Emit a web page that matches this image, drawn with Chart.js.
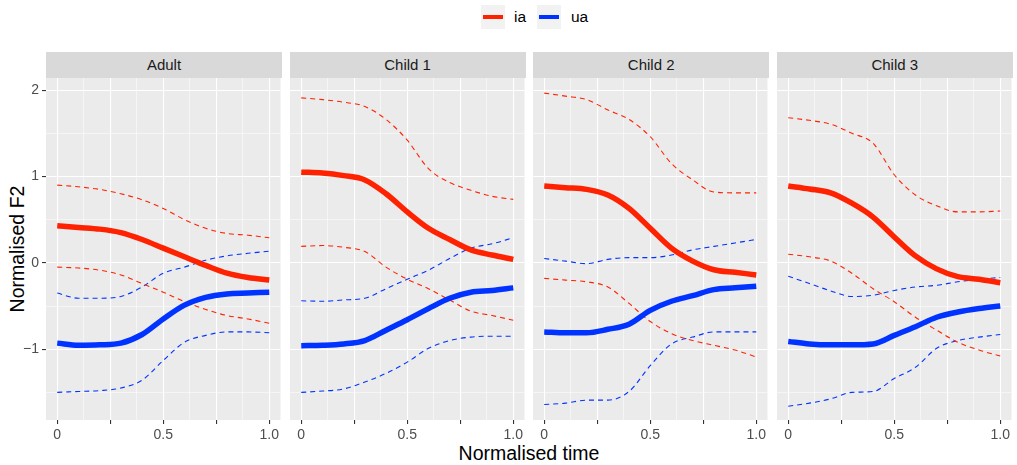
<!DOCTYPE html>
<html>
<head>
<meta charset="utf-8">
<script src="https://cdn.jsdelivr.net/npm/chart.js@4.4.0/dist/chart.umd.min.js"></script>
<style>
  html, body { margin:0; padding:0; background:#ffffff; }
  body { width:1017px; height:465px; position:relative; overflow:hidden; font-family:"Liberation Sans", Arial, sans-serif; }
  canvas { position:absolute; top:0; }
  .strip { position:absolute; top:52px; height:26px; background:#D9D9D9; color:#1A1A1A; font-size:15px; line-height:26px; text-align:center; }
  .ytitle { position:absolute; left:17px; top:249px; transform:translate(-50%,-50%) rotate(-90deg); font-size:19.5px; color:#000; white-space:nowrap; }
  .xtitle { position:absolute; left:529px; top:453px; transform:translate(-50%,-50%); font-size:19.5px; color:#000; white-space:nowrap; }
  .legend { position:absolute; top:5px; left:481px; height:24px; font-size:15.5px; color:#000; }
  .key { position:absolute; top:0; width:24px; height:24px; background:#F2F2F2; }
  .key span { position:absolute; left:2px; top:10px; width:20px; height:4px; }
  .lab { position:absolute; top:3px; }
</style>
</head>
<body>
<div class="legend">
  <div class="key" style="left:0px"><span style="background:#FF2200"></span></div>
  <div class="lab" style="left:33px">ia</div>
  <div class="key" style="left:56px"><span style="background:#0033FF"></span></div>
  <div class="lab" style="left:90px">ua</div>
</div>
<div class="ytitle">Normalised F2</div>
<div class="xtitle">Normalised time</div>
<script>
// ---- data ----
const timePoints = [0, 0.1, 0.2, 0.3, 0.4, 0.5, 0.6, 0.7, 0.8, 0.9, 1.0];
const panelNames = ["Adult", "Child 1", "Child 2", "Child 3"];
const seriesNames = ["ia", "ua"];
const yTickLabels = ["2", "1", "0", "\u22121"];
const xTickLabels = ["0", "0.5", "1.0"];

const adultIaMean  = [0.43, 0.41, 0.39, 0.35, 0.27, 0.17, 0.07, -0.03, -0.12, -0.17, -0.20];
const adultIaUpper = [0.90, 0.88, 0.85, 0.80, 0.73, 0.63, 0.50, 0.40, 0.34, 0.32, 0.29];
const adultIaLower = [-0.05, -0.06, -0.085, -0.14, -0.24, -0.34, -0.45, -0.54, -0.61, -0.65, -0.70];
const adultUaMean  = [-0.93, -0.955, -0.95, -0.93, -0.83, -0.65, -0.49, -0.40, -0.36, -0.35, -0.34];
const adultUaUpper = [-0.35, -0.41, -0.41, -0.39, -0.28, -0.12, -0.05, 0.03, 0.08, 0.11, 0.135];
const adultUaLower = [-1.50, -1.49, -1.48, -1.45, -1.36, -1.13, -0.92, -0.84, -0.80, -0.80, -0.81];

const child1IaMean  = [1.05, 1.04, 1.01, 0.96, 0.80, 0.59, 0.40, 0.27, 0.15, 0.09, 0.04];
const child1IaUpper = [1.91, 1.89, 1.86, 1.81, 1.66, 1.42, 1.09, 0.93, 0.84, 0.77, 0.735];
const child1IaLower = [0.19, 0.20, 0.18, 0.13, -0.05, -0.19, -0.30, -0.43, -0.56, -0.61, -0.665];
const child1UaMean  = [-0.96, -0.955, -0.94, -0.90, -0.78, -0.66, -0.53, -0.41, -0.34, -0.32, -0.29];
const child1UaUpper = [-0.44, -0.445, -0.43, -0.41, -0.30, -0.19, -0.085, 0.05, 0.17, 0.22, 0.29];
const child1UaLower = [-1.50, -1.485, -1.46, -1.38, -1.28, -1.15, -0.99, -0.90, -0.86, -0.85, -0.85];

const child2IaMean  = [0.89, 0.87, 0.85, 0.785, 0.63, 0.40, 0.17, 0.02, -0.08, -0.11, -0.14];
const child2IaUpper = [1.965, 1.93, 1.89, 1.77, 1.66, 1.46, 1.15, 0.96, 0.82, 0.81, 0.81];
const child2IaLower = [-0.18, -0.20, -0.22, -0.28, -0.47, -0.68, -0.82, -0.90, -0.955, -1.01, -1.09];
const child2UaMean  = [-0.80, -0.81, -0.81, -0.77, -0.71, -0.55, -0.445, -0.38, -0.31, -0.29, -0.27];
const child2UaUpper = [0.05, 0.02, -0.01, 0.04, 0.06, 0.06, 0.09, 0.15, 0.19, 0.23, 0.27];
const child2UaLower = [-1.64, -1.625, -1.59, -1.59, -1.49, -1.19, -0.94, -0.86, -0.80, -0.80, -0.80];

const child3IaMean  = [0.89, 0.855, 0.81, 0.69, 0.53, 0.30, 0.08, -0.07, -0.16, -0.19, -0.23];
const child3IaUpper = [1.68, 1.65, 1.605, 1.50, 1.385, 1.02, 0.785, 0.66, 0.59, 0.59, 0.60];
const child3IaLower = [0.10, 0.07, 0.02, -0.12, -0.30, -0.45, -0.63, -0.78, -0.92, -1.01, -1.08];
const child3UaMean  = [-0.91, -0.94, -0.95, -0.95, -0.94, -0.84, -0.74, -0.63, -0.57, -0.53, -0.50];
const child3UaUpper = [-0.155, -0.24, -0.325, -0.39, -0.375, -0.32, -0.28, -0.26, -0.22, -0.19, -0.17];
const child3UaLower = [-1.66, -1.625, -1.575, -1.50, -1.49, -1.34, -1.21, -0.99, -0.90, -0.86, -0.83];

const panelData = [
  [adultIaMean, adultIaUpper, adultIaLower, adultUaMean, adultUaUpper, adultUaLower],
  [child1IaMean, child1IaUpper, child1IaLower, child1UaMean, child1UaUpper, child1UaLower],
  [child2IaMean, child2IaUpper, child2IaLower, child2UaMean, child2UaUpper, child2UaLower],
  [child3IaMean, child3IaUpper, child3IaLower, child3UaMean, child3UaUpper, child3UaLower]
];

// ---- styling / layout ----
const RED = "#FF2200", BLUE = "#0033FF";
const PANEL_TOP = 78, PANEL_BOTTOM = 420, H = 465;
const firstLeft = 46, panelW = 236, panelStep = 243.6;
const yAxisW = 46;

const bgPlugin = {
  id: "panelBg",
  beforeDraw(chart) {
    const a = chart.chartArea, c = chart.ctx;
    c.save();
    c.fillStyle = "#EBEBEB";
    c.fillRect(a.left, a.top, a.right - a.left, a.bottom - a.top);
    c.restore();
  }
};

function toPts(arr) { return timePoints.map((t, i) => ({ x: t, y: arr[i] })); }

function lineDs(arr, color, thick, order) {
  return {
    data: toPts(arr),
    borderColor: color,
    borderWidth: thick ? 5.5 : 1.1,
    borderDash: thick ? [] : [5, 4],
    borderCapStyle: "butt",
    borderJoinStyle: "round",
    pointRadius: 0,
    fill: false,
    cubicInterpolationMode: "monotone",
    order: order
  };
}

const isMult = (v, s) => Math.abs(v / s - Math.round(v / s)) < 1e-6;

panelNames.forEach((name, p) => {
  const left = firstLeft + p * panelStep;
  const showY = p === 0;
  const canvasLeft = showY ? 0 : left;
  const canvasW = showY ? left + panelW : panelW;

  const strip = document.createElement("div");
  strip.className = "strip";
  strip.style.left = left + "px";
  strip.style.width = panelW + "px";
  strip.textContent = name;
  document.body.appendChild(strip);

  const cv = document.createElement("canvas");
  cv.width = canvasW; cv.height = H;
  cv.style.left = canvasLeft + "px";
  cv.style.width = canvasW + "px"; cv.style.height = H + "px";
  document.body.appendChild(cv);

  const d = panelData[p];
  new Chart(cv.getContext("2d"), {
    type: "line",
    data: {
      datasets: [
        lineDs(d[0], RED, true, 1),
        lineDs(d[3], BLUE, true, 2),
        lineDs(d[1], RED, false, 3),
        lineDs(d[2], RED, false, 4),
        lineDs(d[4], BLUE, false, 5),
        lineDs(d[5], BLUE, false, 6)
      ]
    },
    options: {
      responsive: false,
      animation: false,
      devicePixelRatio: 1,
      layout: { padding: { top: PANEL_TOP, left: 0, right: 0, bottom: 0 } },
      plugins: { legend: { display: false }, tooltip: { enabled: false } },
      scales: {
        x: {
          type: "linear",
          min: -0.053, max: 1.053,
          afterFit: s => { s.height = H - PANEL_BOTTOM; },
          border: { display: false },
          grid: {
            color: "#FFFFFF",
            lineWidth: c => (c.tick && isMult(c.tick.value, 0.25)) ? 1.1 : 0.5,
            tickColor: c => (c.tick && isMult(c.tick.value, 0.25)) ? "#333333" : "rgba(0,0,0,0)",
            tickLength: 4,
            drawTicks: true
          },
          ticks: {
            stepSize: 0.125,
            includeBounds: false,
            autoSkip: false,
            maxRotation: 0,
            padding: 3,
            color: "#4D4D4D",
            font: { size: 14, family: "'Liberation Sans', Arial, sans-serif" },
            callback: v => {
              if (isMult(v, 1) && Math.round(v) === 0) return xTickLabels[0];
              if (Math.abs(v - 0.5) < 1e-6) return xTickLabels[1];
              if (Math.abs(v - 1) < 1e-6) return xTickLabels[2];
              return "";
            }
          }
        },
        y: {
          type: "linear",
          display: showY ? true : "auto",
          min: -1.82, max: 2.14,
          afterFit: s => { if (showY) s.width = yAxisW; },
          border: { display: false },
          grid: {
            color: "#FFFFFF",
            lineWidth: c => (c.tick && isMult(c.tick.value, 1)) ? 1.1 : 0.5,
            tickColor: c => (showY && c.tick && isMult(c.tick.value, 1)) ? "#333333" : "rgba(0,0,0,0)",
            tickLength: showY ? 4 : 0,
            drawTicks: showY
          },
          ticks: {
            display: showY,
            stepSize: 0.5,
            includeBounds: false,
            padding: 3,
            color: "#4D4D4D",
            font: { size: 14, family: "'Liberation Sans', Arial, sans-serif" },
            callback: v => {
              if (!isMult(v, 1)) return "";
              const idx = Math.round(2 - v);
              return yTickLabels[idx] !== undefined ? yTickLabels[idx] : "";
            }
          }
        }
      }
    },
    plugins: [bgPlugin]
  });
});
</script>
</body>
</html>
